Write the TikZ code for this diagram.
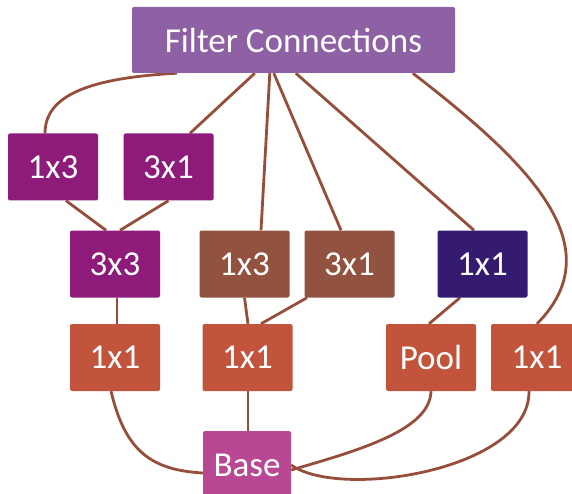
\documentclass[tikz,border=0pt]{standalone}
\usepackage{fontspec}
\setmainfont{Carlito}
\usetikzlibrary{backgrounds}
\definecolor{filterc}{RGB}{142,96,164}
\definecolor{magc}{RGB}{142,26,122}
\definecolor{brownc}{RGB}{146,82,64}
\definecolor{indigoc}{RGB}{52,27,112}
\definecolor{orangec}{RGB}{194,84,60}
\definecolor{basec}{RGB}{184,72,148}
\definecolor{wirec}{RGB}{150,78,58}
\tikzset{
  box/.style={rectangle, rounded corners=2pt, inner sep=0pt, text=white,
    font=\fontsize{35}{42}\selectfont, minimum height=67pt, minimum width=90pt},
  wire/.style={draw=wirec, line width=2.8pt}
}
\begin{document}
\begin{tikzpicture}[x=1pt, y=-1pt]
\useasboundingbox (0,0) rectangle (572,494);

% boxes
\node[box, fill=filterc, minimum width=323pt, minimum height=66pt] (fc) at (293.5,40) {Filter Connections};
\node[box, fill=magc] (a13) at (53,167) {1x3};
\node[box, fill=magc] (a31) at (168.5,167) {3x1};
\node[box, fill=magc] (a33) at (115,264) {3x3};
\node[box, fill=brownc] (b13) at (244.5,264) {1x3};
\node[box, fill=brownc] (b31) at (349.5,264) {3x1};
\node[box, fill=indigoc] (c11) at (482.5,264) {1x1};
\node[box, fill=orangec] (d11) at (115,357.5) {1x1};
\node[box, fill=orangec] (e11) at (247.5,357.5) {1x1};
\node[box, fill=orangec] (pool) at (431,357.5) {Pool};
\node[box, fill=orangec, minimum width=92pt] (f11) at (537,357.5) {1x1};
\node[box, fill=basec, minimum width=88pt, minimum height=68pt] (base) at (247,465) {Base};

\begin{scope}[on background layer]
% connectors from the filter bank
\draw[wire] ([xshift=45pt]fc.south west) .. controls (90,78) and (45,95) .. ([xshift=-8pt]a13.north);
\draw[wire] ([xshift=123pt]fc.south west) -- ([xshift=21.5pt]a31.north);
\draw[wire] ([xshift=138pt]fc.south west) -- ([xshift=16.5pt]b13.north);
\draw[wire] ([xshift=142pt]fc.south west) -- ([xshift=-8.5pt]b31.north);
\draw[wire] ([xshift=164pt]fc.south west) -- ([xshift=-8.5pt]c11.north);
\draw[wire] ([xshift=281pt]fc.south west) .. controls (525,160) and (615,245) .. (f11.north);

% inner connectors
\draw[wire] ([xshift=13pt]a13.south) -- ([xshift=-9pt]a33.north);
\draw[wire] (a31.south) -- ([xshift=5pt]a33.north);
\draw[wire] ([xshift=2pt]a33.south) -- ([xshift=2pt]d11.north);
\draw[wire] (b13.south) -- ([xshift=0.5pt]e11.north);
\draw[wire] ([xshift=-42.5pt]b31.south) -- ([xshift=13.5pt]e11.north);
\draw[wire] ([xshift=-22.5pt]c11.south) -- ([xshift=-2pt]pool.north);
\draw[wire] ([xshift=0.5pt]e11.south) -- ([xshift=1pt]base.north);

% connectors into the base
\draw[wire] ([xshift=-4pt]d11.south) .. controls (125,450) and (150,470) .. ([yshift=-8pt]base.west);
\draw[wire] (pool.south) .. controls (430,430) and (360,450) .. ([yshift=-5pt]base.east);
\draw[wire] ([xshift=-8pt]f11.south) .. controls (530,470) and (340,500) .. (base.east);
\end{scope}
\end{tikzpicture}
\end{document}
